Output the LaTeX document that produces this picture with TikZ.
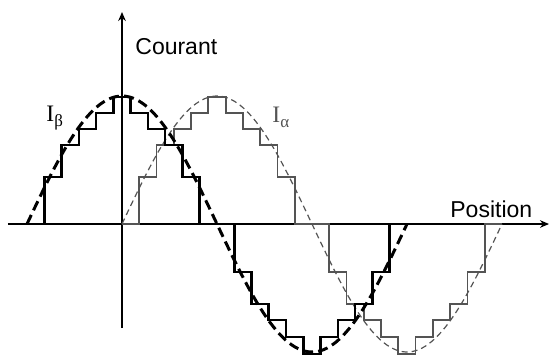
\documentclass[tikz,border=0pt]{standalone}
\usepackage{fontspec}
\setmainfont{Liberation Serif}
\setsansfont{Liberation Sans}
\usepackage{xcolor}
\usepackage{tikz}
\usetikzlibrary{arrows.meta}

\definecolor{alphagray}{gray}{0.33}
\newcommand{\lowidx}[1]{\raisebox{-0.25em}{\fontsize{8.5bp}{9bp}\selectfont #1}}

\tikzset{
  axis/.style={line width=0.65bp, -{Stealth[length=4.5bp, width=3.8bp]}},
  stairB/.style={black, line width=1.3bp},
  stairA/.style={alphagray, line width=0.9bp},
  waveB/.style={black, line width=1.5bp, dash pattern=on 5bp off 2.6bp},
  waveA/.style={alphagray, line width=0.6bp, dash pattern=on 3bp off 2bp},
  axislabel/.style={font=\sffamily\fontsize{11.5bp}{14bp}\selectfont, inner sep=0pt, anchor=base west},
  curvelabel/.style={font=\fontsize{11.8bp}{14bp}\selectfont, inner sep=0pt, anchor=base west}
}

\begin{document}
\begin{tikzpicture}[x=0.5bp, y=0.5bp]
      \useasboundingbox (-122,-132) rectangle (427,224);

      \coordinate (O) at (0, 0);
      \coordinate (Xl) at (-114, 0);
      \coordinate (Xr) at (427, 0);
      \coordinate (Yb) at (0, -104);
      \coordinate (Yt) at (0, 212);

      \draw [axis] (Xl) -- (Xr);
      \draw [axis] (Yb) -- (Yt);

      \node [axislabel] (courant) at (13, 170) {Courant};
      \node [axislabel] (position) at (328, 7) {Position};

      % staircase and sine of I alpha (period 380)
      \draw [stairA] (O) foreach \l [count=\k] in
        {0,47,79,95,111,127,111,95,79,47,0,0,-48,-80,-96,-113,-130,-113,-96,-80,-48,0}
        { |- (\k*17.27, \l) };
      \draw [waveA, domain=0:380, samples=120] plot (\x, {128*sin(\x*0.947368)});

      % staircase and sine of I beta
      \draw [stairB] (-95, 0) foreach \l [count=\k] in
        {0,47,79,95,111,127,111,95,79,47,0,0,-48,-80,-96,-113,-130,-113,-96,-80,-48,0}
        { |- (\k*17.27-95, \l) };
      \draw [waveB, domain=-95:285, samples=120] plot (\x, {128*cos(\x*0.947368)});

      \node [curvelabel] (Ib) at (-76, 103) {I\lowidx{β}};
      \node [curvelabel, text=alphagray] (Ia) at (150, 102) {I\lowidx{α}};
\end{tikzpicture}
\end{document}
